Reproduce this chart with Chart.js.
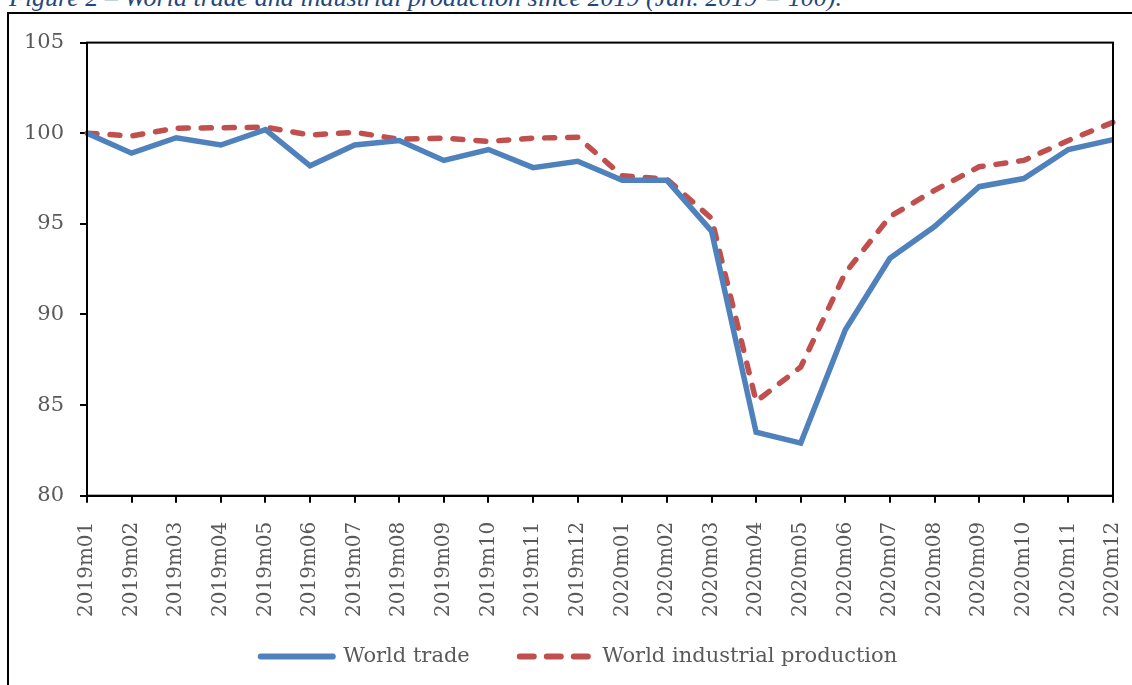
<!DOCTYPE html>
<html>
<head>
<meta charset="utf-8">
<script src="https://cdn.jsdelivr.net/npm/chart.js@4"></script>
<style>
  body { margin: 0; background: #fff; overflow: hidden; }
  #title {
    position: absolute; left: 9px; top: -15px;
    font: italic 26px "Liberation Serif", serif; color: #1F497D;
    white-space: nowrap; line-height: 26px;
  }
  #box {
    position: absolute; left: 7px; top: 12px;
    width: 1123px; height: 671px;
    border-left: 2px solid #000; border-top: 2px solid #000;
  }
</style>
</head>
<body>
<div id="title">Figure 2 – World trade and industrial production since 2019 (Jan. 2019 = 100).</div>
<div id="box"><canvas id="chart" width="1123" height="671"></canvas></div>
<script>
const months = [
  "2019m01", "2019m02", "2019m03", "2019m04", "2019m05", "2019m06",
  "2019m07", "2019m08", "2019m09", "2019m10", "2019m11", "2019m12",
  "2020m01", "2020m02", "2020m03", "2020m04", "2020m05", "2020m06",
  "2020m07", "2020m08", "2020m09", "2020m10", "2020m11", "2020m12"
];
const worldTrade = [
  100.0, 98.9, 99.75, 99.35, 100.2, 98.2, 99.35, 99.6, 98.5, 99.1, 98.1, 98.45,
  97.4, 97.4, 94.6, 83.5, 82.9, 89.15, 93.1, 94.85, 97.05, 97.5, 99.1, 99.65
];
const worldIP = [
  100.0, 99.85, 100.28, 100.3, 100.33, 99.9, 100.05, 99.67, 99.73, 99.55, 99.73, 99.78,
  97.65, 97.46, 95.3, 85.2, 87.1, 92.3, 95.4, 96.85, 98.15, 98.5, 99.6, 100.6
];
const yTicks = [80, 85, 90, 95, 100, 105];

const grey = "#595959";
const serif = "'DejaVu Serif', serif";

// full frame round the plot area
const frame = {
  id: "frame",
  afterDraw(chart) {
    const a = chart.chartArea, ctx = chart.ctx;
    ctx.save();
    ctx.strokeStyle = "#000";
    ctx.lineWidth = 2;
    ctx.strokeRect(a.left, a.top, a.right - a.left, a.bottom - a.top);
    ctx.restore();
  }
};

// nudge the legend a little to the right, like the original
const legendShift = {
  id: "legendShift",
  afterLayout(chart) {
    chart.legend.left += 18;
    chart.legend.right += 18;
  }
};

new Chart(document.getElementById("chart"), {
  type: "line",
  data: {
    labels: months,
    datasets: [
      {
        label: "World trade",
        data: worldTrade,
        borderColor: "#4F81BD",
        backgroundColor: "#4F81BD",
        borderWidth: 5.5,
        pointRadius: 0,
        tension: 0
      },
      {
        label: "World industrial production",
        data: worldIP,
        borderColor: "#C0504D",
        backgroundColor: "#C0504D",
        borderWidth: 5.5,
        borderDash: [10, 13],
        borderCapStyle: "round",
        pointRadius: 0,
        tension: 0
      }
    ]
  },
  options: {
    responsive: false,
    animation: false,
    layout: { padding: { top: 28, right: 19, left: 0, bottom: 8 } },
    scales: {
      x: {
        offset: false,
        afterFit: s => {
          s.height -= 40;
          s.paddingLeft = 0;
          s.paddingRight = 0;
          s._computeLabelArea = () => null; // labels may run below the shortened axis box
        },
        grid: { display: true, drawOnChartArea: false, tickLength: 7, color: "#000", lineWidth: 2 },
        border: { color: "#000", width: 2 },
        ticks: {
          minRotation: 90, maxRotation: 90, autoSkip: false, padding: 19,
          color: grey, font: { family: serif, size: 20 }
        }
      },
      y: {
        min: 80, max: 105,
        afterBuildTicks: s => { s.ticks = yTicks.map(v => ({ value: v })); },
        afterFit: s => { s.width = 78; },
        grid: { display: true, drawOnChartArea: false, tickLength: 7, color: "#000", lineWidth: 2 },
        border: { color: "#000", width: 2 },
        ticks: { padding: 16, color: grey, font: { family: serif, size: 21 } }
      }
    },
    plugins: {
      tooltip: { enabled: false },
      legend: {
        position: "bottom",
        labels: {
          usePointStyle: true,
          pointStyleWidth: 72,
          boxWidth: 72,
          padding: 50,
          color: grey,
          font: { family: serif, size: 21 },
          generateLabels: chart => chart.data.datasets.map((d, i) => ({
            text: d.label,
            datasetIndex: i,
            pointStyle: "line",
            strokeStyle: d.borderColor,
            fillStyle: d.borderColor,
            lineWidth: 6,
            lineCap: "round",
            lineDash: d.borderDash ? [14, 13] : [],
            fontColor: grey
          }))
        }
      }
    }
  },
  plugins: [frame, legendShift]
});
</script>
</body>
</html>
